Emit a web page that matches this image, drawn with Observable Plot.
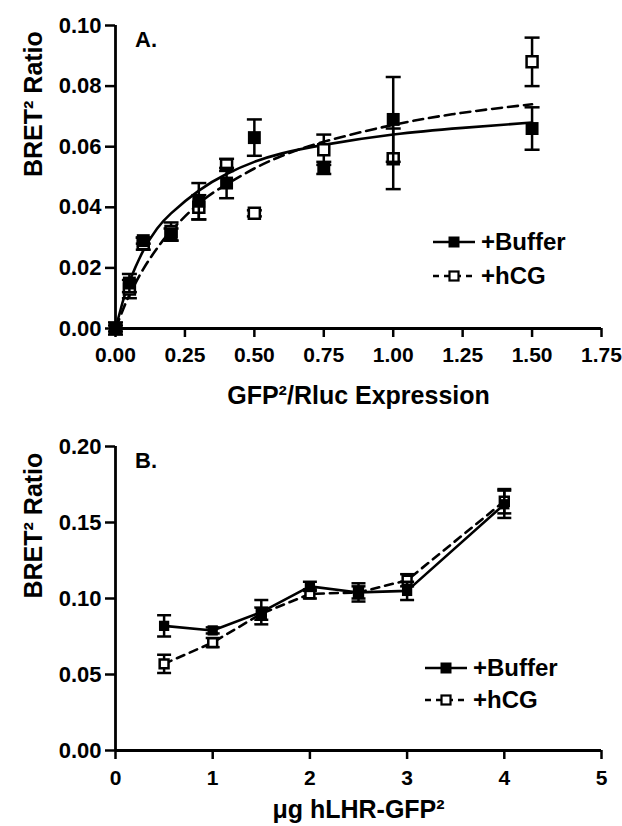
<!DOCTYPE html>
<html><head><meta charset="utf-8">
<script src="https://cdn.jsdelivr.net/npm/d3@7"></script>
<script src="https://cdn.jsdelivr.net/npm/@observablehq/plot@0.6"></script>
<style>
body{margin:0;background:#fff;font-family:"Liberation Sans",Arial,sans-serif;}
#wrap{position:relative;width:622px;height:826px;overflow:hidden;}
.panel{position:absolute;left:0;}
.leg{position:absolute;font-weight:bold;font-size:24px;color:#000;display:flex;align-items:center;height:30px;line-height:30px;white-space:nowrap;}
.leg svg{margin-right:6px;}
.plab{position:absolute;font-weight:bold;font-size:22px;}
</style></head><body><div id="wrap"></div>
<script>
// ---------- Panel A data ----------
const aX = [0, 0.05, 0.1, 0.2, 0.3, 0.4, 0.5, 0.75, 1.0, 1.5];
const aBuffer = [0.000, 0.015, 0.029, 0.031, 0.042, 0.048, 0.063, 0.053, 0.069, 0.066];
const aBufferErr = [0.002, 0.003, 0.001, 0.002, 0.006, 0.005, 0.006, 0.002, 0.014, 0.007];
const aHcg = [0.000, 0.013, 0.028, 0.032, 0.040, 0.054, 0.038, 0.059, 0.056, 0.088];
const aHcgErr = [0.001, 0.003, 0.002, 0.003, 0.004, 0.002, 0.001, 0.005, 0.010, 0.008];
// fitted curves
const aFitX = [0, 0.025, 0.05, 0.1, 0.15, 0.2, 0.3, 0.4, 0.5, 0.6, 0.75, 1.0, 1.25, 1.5];
const aFitBuffer = [0, 0.0085, 0.0154, 0.0257, 0.0330, 0.0380, 0.0455, 0.0510, 0.0550, 0.0578, 0.0606, 0.0640, 0.0662, 0.0680];
const aFitHcg = [0, 0.0058, 0.0110, 0.0196, 0.0265, 0.0322, 0.0412, 0.0476, 0.0528, 0.0570, 0.0616, 0.0672, 0.0712, 0.0740];
const aXTicks = [0, 0.25, 0.5, 0.75, 1.0, 1.25, 1.5, 1.75];
const aYTicks = [0, 0.02, 0.04, 0.06, 0.08, 0.10];

// ---------- Panel B data ----------
const bX = [0.5, 1, 1.5, 2, 2.5, 3, 4];
const bBuffer = [0.082, 0.079, 0.091, 0.108, 0.104, 0.105, 0.162];
const bBufferErr = [0.007, 0.002, 0.008, 0.003, 0.006, 0.006, 0.009];
const bHcg = [0.057, 0.071, 0.090, 0.103, 0.104, 0.112, 0.164];
const bHcgErr = [0.006, 0.003, 0.004, 0.003, 0.004, 0.004, 0.008];
const bXTicks = [0, 1, 2, 3, 4, 5];
const bYTicks = [0, 0.05, 0.10, 0.15, 0.20];

const seriesNames = ["+Buffer", "+hCG"];

const capSymbol = {draw(ctx, size){ const w = Math.sqrt(size/Math.PI); ctx.moveTo(-w,0); ctx.lineTo(w,0); }};

function rows(xs, ys, es){ return xs.map((x,i)=>({x, y: ys[i], lo: ys[i]-es[i], hi: ys[i]+es[i]})); }
function pts(xs, ys){ return xs.map((x,i)=>({x, y: ys[i]})); }

function panel(o){
  const buf = rows(o.x, o.buf, o.bufErr), hcg = rows(o.x, o.hcg, o.hcgErr);
  const marks = [];
  marks.push(Plot.ruleY([0], {x1: o.xDomain[0], x2: o.xDomain[1], strokeWidth: 2.8}));
  marks.push(Plot.ruleX([0], {y1: o.yDomain[0], y2: o.yDomain[1], strokeWidth: 2.8}));
  marks.push(Plot.axisX({ticks: o.xTicks, tickSize: 9, tickPadding: o.xPad, fontSize: 21, fontWeight: "bold", strokeWidth: 2.5, tickFormat: o.xFmt, label: null}));
  marks.push(Plot.axisY({ticks: o.yTicks, tickSize: 10, tickPadding: 4, fontSize: 22, fontWeight: "bold", strokeWidth: 2.5, tickFormat: d3.format(".2f"), label: null}));
  marks.push(Plot.text([o.xLabel], {frameAnchor: "bottom", lineAnchor: "middle", dy: o.xLabelDy, fontSize: 25, fontWeight: "bold"}));
  marks.push(Plot.text([o.yLabel], {frameAnchor: "left", lineAnchor: "middle", dx: -82, rotate: -90, fontSize: 25, fontWeight: "bold"}));
  marks.push(Plot.line(o.lineBuf, {x: "x", y: "y", strokeWidth: o.lw, curve: o.curve}));
  marks.push(Plot.line(o.lineHcg, {x: "x", y: "y", strokeWidth: o.lw, strokeDasharray: o.dash, curve: o.curve}));
  marks.push(Plot.ruleX(hcg, {x: "x", y1: "lo", y2: "hi", strokeWidth: 2.5}));
  marks.push(Plot.dot(hcg, {x: "x", y: "lo", symbol: capSymbol, r: o.cap, stroke: "black", strokeWidth: 2.5}));
  marks.push(Plot.dot(hcg, {x: "x", y: "hi", symbol: capSymbol, r: o.cap, stroke: "black", strokeWidth: 2.5}));
  marks.push(Plot.dot(hcg, {x: "x", y: "y", symbol: "square", r: o.rOpen, fill: "white", stroke: "black", strokeWidth: 2.5}));
  marks.push(Plot.ruleX(buf, {x: "x", y1: "lo", y2: "hi", strokeWidth: 2.5}));
  marks.push(Plot.dot(buf, {x: "x", y: "lo", symbol: capSymbol, r: o.cap, stroke: "black", strokeWidth: 2.5}));
  marks.push(Plot.dot(buf, {x: "x", y: "hi", symbol: capSymbol, r: o.cap, stroke: "black", strokeWidth: 2.5}));
  marks.push(Plot.dot(buf, {x: "x", y: "y", symbol: "square", r: o.rFill, fill: "black", stroke: "none"}));
  return Plot.plot({
    width: 622, height: o.height,
    marginTop: o.mt, marginBottom: o.mb, marginLeft: 115, marginRight: 21,
    x: {domain: o.xDomain}, y: {domain: o.yDomain},
    style: {fontFamily: "'Liberation Sans', Arial, sans-serif", fontWeight: "bold", color: "black", background: "white", overflow: "visible"},
    marks
  });
}

const wrap = document.getElementById("wrap");

const plotA = panel({
  height: 420, mt: 25, mb: 92,
  x: aX, buf: aBuffer, bufErr: aBufferErr, hcg: aHcg, hcgErr: aHcgErr,
  lineBuf: pts(aFitX, aFitBuffer), lineHcg: pts(aFitX, aFitHcg), curve: "natural", lw: 2.6, dash: "10,6",
  xDomain: [0, 1.75], yDomain: [0, 0.10], xTicks: aXTicks, yTicks: aYTicks, xFmt: d3.format(".2f"), xPad: 10,
  xLabel: "GFP²/Rluc Expression", yLabel: "BRET² Ratio", xLabelDy: 67,
  rFill: 7.3, rOpen: 6.2, cap: 7.5
});
plotA.classList.add("panel"); plotA.style.top = "0px";
wrap.appendChild(plotA);

const plotB = panel({
  height: 406, mt: 26, mb: 76,
  x: bX, buf: bBuffer, bufErr: bBufferErr, hcg: bHcg, hcgErr: bHcgErr,
  lineBuf: pts(bX, bBuffer), lineHcg: pts(bX, bHcg), curve: "linear", lw: 2.6, dash: "8,6",
  xDomain: [0, 5], yDomain: [0, 0.20], xTicks: bXTicks, yTicks: bYTicks, xFmt: d3.format("d"), xPad: 11,
  xLabel: "μg hLHR-GFP²", yLabel: "BRET² Ratio", xLabelDy: 59,
  rFill: 5.8, rOpen: 5.0, cap: 7
});
plotB.classList.add("panel"); plotB.style.top = "420px";
wrap.appendChild(plotB);

function addLabel(t, left, top){ const d = document.createElement("div"); d.className = "plab"; d.textContent = t; d.style.left = left+"px"; d.style.top = top+"px"; wrap.appendChild(d); }
addLabel("A.", 135, 27);
addLabel("B.", 135, 448);

function legendRow(name, dashed, left, top, sq){
  const d = document.createElement("div"); d.className = "leg"; d.style.left = left+"px"; d.style.top = (top-15)+"px";
  const w = 42, h = 30, c = w/2;
  const line = dashed
    ? `<line x1="0" y1="15" x2="${w}" y2="15" stroke="black" stroke-width="2.5" stroke-dasharray="6,5"/>`
    : `<line x1="0" y1="15" x2="${w}" y2="15" stroke="black" stroke-width="2.5"/>`;
  const mark = dashed
    ? `<rect x="${c-sq/2+1}" y="${15-sq/2+1}" width="${sq-2}" height="${sq-2}" fill="white" stroke="black" stroke-width="2.2"/>`
    : `<rect x="${c-sq/2}" y="${15-sq/2}" width="${sq}" height="${sq}" fill="black"/>`;
  d.innerHTML = `<svg width="${w}" height="${h}">${line}${mark}</svg><span>${name}</span>`;
  wrap.appendChild(d);
}
legendRow(seriesNames[0], false, 433, 242, 11);
legendRow(seriesNames[1], true, 433, 276, 11);
legendRow(seriesNames[0], false, 425, 668, 11);
legendRow(seriesNames[1], true, 425, 700, 11);
</script></body></html>
